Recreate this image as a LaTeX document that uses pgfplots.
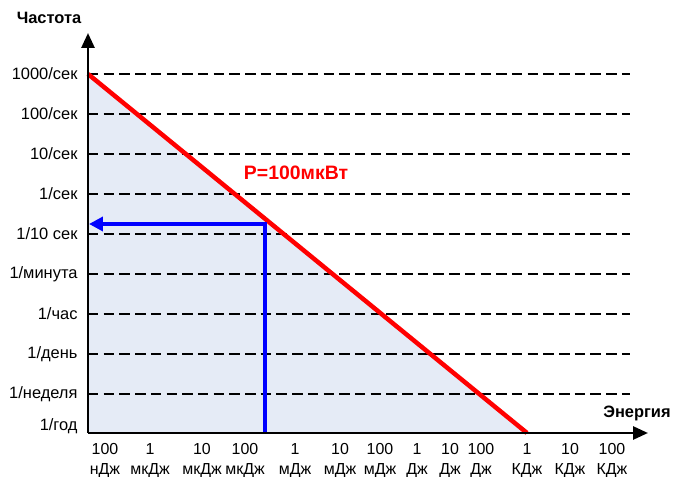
\documentclass[border=0pt]{standalone}
\usepackage{fontspec}
\setmainfont{Liberation Sans}
\usepackage{pgfplots}
\pgfplotsset{compat=1.18}
\usetikzlibrary{arrows.meta}
\definecolor{fillc}{RGB}{229,235,246}
\definecolor{myred}{RGB}{255,0,0}
\definecolor{myblue}{RGB}{0,0,255}
\begin{document}
\begin{tikzpicture}
\begin{axis}[
  x=1bp, y=1bp,
  xmin=88, xmax=648, ymin=0, ymax=400,
  axis lines=left,
  axis on top=true,
  axis line style={line width=2.7bp, -{Triangle[length=15bp,width=13bp]}},
  clip=false,
  major tick length=0pt,
  xtick={105,150,202,245,295,340,380,417,450,481,527,570,612},
  xticklabels={{100\\нДж},{1\\мкДж},{10\\мкДж},{100\\мкДж},{1\\мДж},{10\\мДж},{100\\мДж},{1\\Дж},{10\\Дж},{100\\Дж},{1\\КДж},{10\\КДж},{100\\КДж}},
  xticklabel style={align=center, font=\fontsize{16}{20.5}\selectfont, yshift=-8bp, inner sep=2bp},
  ytick={7,39,79,119,159,199,239,279,319,359},
  yticklabels={1/год,1/неделя,1/день,1/час,1/минута,1/10 сек,1/сек,10/сек,100/сек,1000/сек},
  yticklabel style={font=\fontsize{16.5}{20}\selectfont, xshift=-7bp},
  /pgf/number format/assume math mode=true,
]
\addplot[fill=fillc, draw=none] coordinates {(88,359) (527,0) (88,0)} -- cycle;
\pgfplotsinvokeforeach{39,79,119,159,199,239,279,319,359}{
  \addplot[black, line width=2.4bp, dash pattern=on 10.5bp off 5.2bp] coordinates {(88,#1) (630,#1)};
}
\addplot[myred, line width=4.5bp] coordinates {(88,359) (527,0)};
\addplot[myblue, line width=4bp, line join=miter, -{Triangle[length=14bp,width=14bp]}] coordinates {(265,0) (265,209) (89,209)};
\node[font=\bfseries\fontsize{16.5}{18}\selectfont] at (axis cs:49,415) {Частота};
\node[font=\bfseries\fontsize{16.5}{18}\selectfont] at (axis cs:637,20) {Энергия};
\node[font=\bfseries\fontsize{19.5}{22}\selectfont, text=myred] at (axis cs:296,260) {P=100мкВт};
\coordinate (bl) at (axis cs:0,-44);
\coordinate (tr) at (axis cs:673,433);
\end{axis}
\pgfresetboundingbox
\useasboundingbox (bl) rectangle (tr);
\end{tikzpicture}
\end{document}
